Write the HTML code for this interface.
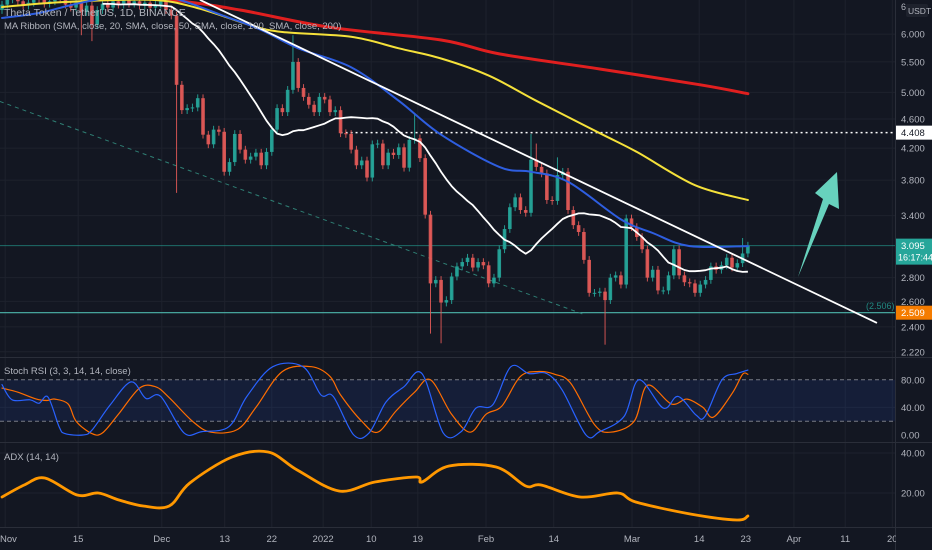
<!DOCTYPE html>
<html><head><meta charset="utf-8"><style>
html,body{margin:0;padding:0;background:#131722;overflow:hidden}
svg{display:block;font-family:"Liberation Sans",sans-serif}
</style></head><body>
<svg id="c" width="932" height="550" viewBox="0 0 932 550"></svg>
<script>
const closes=[6.58,6.69,6.75,6.65,6.56,6.62,6.73,6.69,6.60,6.65,6.78,6.69,6.58,6.52,6.62,6.43,6.56,6.18,6.47,6.60,6.52,6.65,6.58,6.69,6.60,6.65,6.56,6.62,6.52,6.58,6.65,6.47,6.36,
5.12,4.73,4.76,4.77,4.91,4.38,4.25,4.45,4.42,3.90,4.02,4.39,4.18,4.05,4.09,4.14,3.98,4.15,4.45,4.76,4.70,5.04,5.50,5.07,4.93,4.81,4.70,4.93,4.89,4.70,4.73,4.40,4.39,4.18,3.98,4.04,3.83,4.25,4.26,3.98,4.14,4.11,4.21,3.95,4.31,4.33,4.07,3.41,2.75,2.78,2.59,2.61,2.81,2.90,2.94,2.98,2.89,2.94,2.91,2.75,2.80,3.06,3.26,3.49,3.60,3.46,3.43,4.05,3.96,3.88,3.57,3.56,3.86,3.90,3.46,3.30,3.23,2.96,2.67,2.67,2.68,2.61,2.80,2.82,2.74,3.37,3.28,3.18,3.06,2.80,2.87,2.69,2.69,2.82,3.06,2.82,2.76,2.75,2.67,2.74,2.78,2.90,2.87,2.91,2.98,2.89,2.93,3.02,3.095];
const firstOpen=6.47;
const wickHighDays=[55,78,100,101,105,140];
const wickHighVals=[5.98,4.67,4.39,4.26,4.08,3.17];
const wickLowDays=[15,17,33,81,83,114];
const wickLowVals=[5.98,5.87,3.65,2.35,2.28,2.27];
const ma50Days=[0,7,13,20,30,43,49,56,66,75,83,94,100,107,117,123,130,141];
const ma50Vals=[6.31,6.41,6.57,6.72,6.78,6.31,6.08,5.74,5.41,4.87,4.38,3.96,3.90,3.78,3.36,3.22,3.09,3.09];
const ma100Days=[0,11,28,37,47,53,66,75,83,92,101,113,120,131,141];
const ma100Vals=[6.53,6.63,6.68,6.51,6.17,6.04,5.95,5.74,5.56,5.27,4.87,4.40,4.15,3.74,3.57];
const ma200Days=[0,32,45,62,83,94,113,132,141];
const ma200Vals=[7.11,6.68,6.47,6.13,5.89,5.64,5.38,5.12,4.98];
const kDays=[0,1.9,5.3,7,8.7,10.8,11.9,15.3,17,20.4,24.4,27.2,30,34.4,37.8,42.9,46.3,51.2,56.9,60.3,62.6,66.5,69.4,72.6,76,79.4,83.4,86.8,89.6,92.8,96.2,99.6,103,105.9,110.4,113,117.6,120.4,125,127.8,131.2,132.9,136.1,138.9,141];
const kVals=[73,51,51,46,55,12,2,0,7,43,77,53,56,3,5,12,56,99,99,58,56,0,3,48,70,89,3,5,39,44,99,89,89,65,0,5,27,80,39,56,29,27,80,89,94];
const dDays=[0,3,6.5,8.5,10,12.5,14,17,19,22,26,29,31.5,36,39.5,44.5,48,53,58.5,62,64,68,71,74.5,78,81,85,88.5,91.5,94.5,98,101.5,104.5,107.5,112,115,119.5,122,126.5,129.5,132.5,134.5,138,140,141];
const dVals=[68,62,52,50,52,45,20,2,3,30,68,70,55,20,4,8,40,92,99,85,58,20,4,35,62,80,30,4,30,42,85,92,88,75,15,4,20,72,45,52,40,26,60,88,88];
const adxDays=[0,4.2,8.1,14.2,18.2,22.1,26.7,31.6,35.5,43.5,50.3,55.8,63.7,70.5,78.3,79.4,84.5,93.4,99,101.9,109.3,116.4,119.8,130.1,138.9,141];
const adxVals=[18,24,27.5,19,20,16.5,13.5,13.5,25,38,40.5,31.5,21,25.5,28,25.5,33.5,33,23.5,24,18,20,15.5,9.5,6.5,8.5];
const priceTicks=[6.0,5.5,5.0,4.6,4.2,3.8,3.4,2.8,2.6,2.4,2.22];
const priceTickLabels=["6.000","5.500","5.000","4.600","4.200","3.800","3.400","2.800","2.600","2.400","2.220"];
const timeTickDays=[0.6,14.4,30.2,42.1,51,60.7,69.8,78.6,91.5,104.3,119.1,131.8,140.6,149.7,159.4,168.3];
const timeTickLabels=["Nov","15","Dec","13","22","2022","10","19","Feb","14","Mar","14","23","Apr","11","20"];
const lastPrice=3.095, resistance=4.408, support=2.509;

const NS="http://www.w3.org/2000/svg";
const svg=document.getElementById('c');
function mk(tag,attrs,parent){const e=document.createElementNS(NS,tag);for(const k in attrs)e.setAttribute(k,attrs[k]);(parent||svg).appendChild(e);return e;}
const AX=895;
const x=d=>2+5.29*d;
const y=p=>606.6-319.5*Math.log(p);
const ys=v=>435-0.69*v;
const ya=v=>533-2*v;

const defs=mk('defs',{});
const cp=mk('clipPath',{id:'mainclip'},defs);mk('rect',{x:0,y:0,width:AX,height:357},cp);
const cp2=mk('clipPath',{id:'stclip'},defs);mk('rect',{x:0,y:358,width:AX,height:84},cp2);

const grid=mk('g',{});

timeTickDays.forEach(d=>{mk('line',{x1:x(d),x2:x(d),y1:0,y2:527,stroke:'#1e222d','stroke-width':1},grid);});
priceTicks.forEach(p=>{mk('line',{x1:0,x2:AX,y1:y(p),y2:y(p),stroke:'#1e222d','stroke-width':1},grid);});
[40].forEach(v=>mk('line',{x1:0,x2:AX,y1:ys(v),y2:ys(v),stroke:'#1e222d'},grid));
[40,20].forEach(v=>mk('line',{x1:0,x2:AX,y1:ya(v),y2:ya(v),stroke:'#1e222d'},grid));
mk('line',{x1:0,x2:932,y1:357.5,y2:357.5,stroke:'#2a2e39'});
mk('line',{x1:0,x2:932,y1:442.5,y2:442.5,stroke:'#2a2e39'});
mk('line',{x1:0,x2:932,y1:527.5,y2:527.5,stroke:'#2a2e39'});
mk('line',{x1:AX+.5,x2:AX+.5,y1:0,y2:550,stroke:'#2a2e39'});

const main=mk('g',{'clip-path':'url(#mainclip)'});


const hl1=mk('line',{x1:0,x2:AX,y1:y(lastPrice),y2:y(lastPrice),stroke:'#26a69a','stroke-opacity':0.6,'stroke-width':1},main);

const hl2=mk('line',{x1:0,x2:AX,y1:y(support),y2:y(support),stroke:'#4db6ac','stroke-width':1.2},main);

const dl=mk('line',{x1:x(64),x2:AX,y1:y(resistance),y2:y(resistance),stroke:'#ffffff','stroke-width':1.5,'stroke-dasharray':'2 3'},main);

const dd=mk('line',{x1:x(-0.4),y1:y(4.86),x2:x(109.7),y2:y(2.5),stroke:'#2f7f74','stroke-width':1,'stroke-dasharray':'4 4'},main);


const cg=mk('g',{},main);

closes.forEach((c,i)=>{
  const o=i===0?firstOpen:closes[i-1];
  let hi=Math.max(o,c)*1.012, lo=Math.min(o,c)*0.988;
  const hiI=wickHighDays.indexOf(i); if(hiI>=0)hi=wickHighVals[hiI];
  const loI=wickLowDays.indexOf(i); if(loI>=0)lo=wickLowVals[loI];
  const col=c>=o?'#26a69a':'#e35a58';
  const cx=x(i);
  const g=mk('g',{},cg);
  
  
  mk('line',{x1:cx,x2:cx,y1:y(hi),y2:y(lo),stroke:col,'stroke-width':1,'stroke-opacity':0.9},g);
  const t=y(Math.max(o,c)),b=y(Math.min(o,c));
  mk('rect',{x:cx-1.8,y:t,width:3.6,height:Math.max(1,b-t),fill:col,'fill-opacity':0.92},g);
});

function lineFrom(days,vals,fx,fy,attrs,parent,name){
  const pts=days.map((d,i)=>fx(d).toFixed(1)+','+fy(vals[i]).toFixed(1)).join(' ');
  const pl=mk('polyline',Object.assign({points:pts,fill:'none','stroke-linejoin':'round'},attrs),parent);
  
  
  return pl;
}
function smoothFrom(days,vals,fx,fy,attrs,parent,name){
  const P=days.map((d,i)=>[fx(d),fy(vals[i])]);
  let dstr='M'+P[0][0].toFixed(1)+','+P[0][1].toFixed(1);
  for(let i=0;i<P.length-1;i++){
    const p0=P[Math.max(0,i-1)],p1=P[i],p2=P[i+1],p3=P[Math.min(P.length-1,i+2)];
    const c1=[p1[0]+(p2[0]-p0[0])/6,p1[1]+(p2[1]-p0[1])/6];
    const c2=[p2[0]-(p3[0]-p1[0])/6,p2[1]-(p3[1]-p1[1])/6];
    dstr+=' C'+c1[0].toFixed(1)+','+c1[1].toFixed(1)+' '+c2[0].toFixed(1)+','+c2[1].toFixed(1)+' '+p2[0].toFixed(1)+','+p2[1].toFixed(1);
  }
  const pa=mk('path',Object.assign({d:dstr,fill:'none','stroke-linejoin':'round','stroke-linecap':'round'},attrs),parent);
  
  
  return pa;
}
const sDays=[],sVals=[];
for(let i=19;i<closes.length;i++){let s=0;for(let j=i-19;j<=i;j++)s+=closes[j];sDays.push(i);sVals.push(s/20);}
smoothFrom(ma200Days,ma200Vals,x,y,{stroke:'#e01f1f','stroke-width':3},main,'sma-200-line');
smoothFrom(ma100Days,ma100Vals,x,y,{stroke:'#f5e13a','stroke-width':2},main,'sma-100-line');
smoothFrom(ma50Days,ma50Vals,x,y,{stroke:'#2e5ee0','stroke-width':2},main,'sma-50-line');
lineFrom(sDays,sVals,x,y,{stroke:'#ffffff','stroke-width':1.8},main,'sma-20-line');
const tl=mk('line',{x1:x(37.4),y1:y(6.68),x2:x(165.4),y2:y(2.43),stroke:'#ffffff','stroke-width':1.8},main);

const ar=mk('polygon',{points:'798,277 823,199 815,193 837,172 839,209 829,204',fill:'#67d2bd'},main);

const st=mk('text',{x:866,y:309,fill:'#26a69a','font-size':9,'fill-opacity':0.8},main);st.textContent='(2.506)';


const lg1=mk('text',{x:4,y:16,fill:'#b2b5be','font-size':10.5});lg1.textContent='Theta Token / TetherUS, 1D, BINANCE';

const lg2=mk('text',{x:4,y:29,fill:'#b2b5be','font-size':9.5});lg2.textContent='MA Ribbon (SMA, close, 20, SMA, close, 50, SMA, close, 100, SMA, close, 200)';


const pa=mk('g',{});
priceTicks.forEach((p,i)=>{const t=mk('text',{x:901,y:y(p)+3.5,fill:'#b2b5be','font-size':9.5},pa);t.textContent=priceTickLabels[i];
});
const six=mk('text',{x:901,y:10,fill:'#b2b5be','font-size':9},pa);six.textContent='6';
mk('rect',{x:906,y:4,width:22,height:13,rx:2,fill:'#1e222d'},pa);
const us=mk('text',{x:908,y:14,fill:'#b2b5be','font-size':8.5},pa);us.textContent='USDT';

let b=mk('rect',{x:896,y:y(resistance)-7,width:36,height:14,fill:'#ffffff'},pa);

let bt=mk('text',{x:901,y:y(resistance)+3.5,fill:'#131722','font-size':9.5},pa);bt.textContent='4.408';
b=mk('rect',{x:896,y:y(lastPrice)-7,width:36,height:26,fill:'#26a69a'},pa);

bt=mk('text',{x:901,y:y(lastPrice)+3.5,fill:'#ffffff','font-size':9.5},pa);bt.textContent='3.095';
bt=mk('text',{x:898,y:y(lastPrice)+15,fill:'#ffffff','font-size':9},pa);bt.textContent='16:17:44';
b=mk('rect',{x:896,y:y(support)-7,width:36,height:14,fill:'#f57c00'},pa);

bt=mk('text',{x:901,y:y(support)+3.5,fill:'#ffffff','font-size':9.5},pa);bt.textContent='2.509';

const sp=mk('g',{'clip-path':'url(#stclip)'});
mk('rect',{x:0,y:ys(80),width:AX,height:ys(20)-ys(80),fill:'#2962ff','fill-opacity':0.1},sp);
[80,20].forEach(v=>mk('line',{x1:0,x2:AX,y1:ys(v),y2:ys(v),stroke:'#787b86','stroke-dasharray':'4 3','stroke-width':1},sp));
smoothFrom(dDays,dVals,x,ys,{stroke:'#ff6d00','stroke-width':1.2},sp,'stoch-d-line');
smoothFrom(kDays,kVals,x,ys,{stroke:'#2962ff','stroke-width':1.2},sp,'stoch-k-line');
const stt=mk('text',{x:4,y:374,fill:'#b2b5be','font-size':9.5});stt.textContent='Stoch RSI (3, 3, 14, 14, close)';

[[80,'80.00'],[40,'40.00'],[0,'0.00']].forEach(a=>{const t=mk('text',{x:901,y:ys(a[0])+3.5,fill:'#b2b5be','font-size':9.5});t.textContent=a[1];
});

smoothFrom(adxDays,adxVals,x,ya,{stroke:'#ff9800','stroke-width':2.8},svg,'adx-line');
const at=mk('text',{x:4,y:460,fill:'#b2b5be','font-size':9.5});at.textContent='ADX (14, 14)';

[[40,'40.00'],[20,'20.00']].forEach(a=>{const t=mk('text',{x:901,y:ya(a[0])+3.5,fill:'#b2b5be','font-size':9.5});t.textContent=a[1];
});

const ta=mk('g',{});
timeTickDays.forEach((d,i)=>{const xx=x(d);const anchor=xx<10?'start':'middle';
const t=mk('text',{x:xx<10?0:xx,y:542,fill:'#b2b5be','font-size':9.5,'text-anchor':anchor},ta);t.textContent=timeTickLabels[i];
});
mk('rect',{x:896,y:528,width:36,height:22,fill:'#131722'});
</script>
</body></html>
